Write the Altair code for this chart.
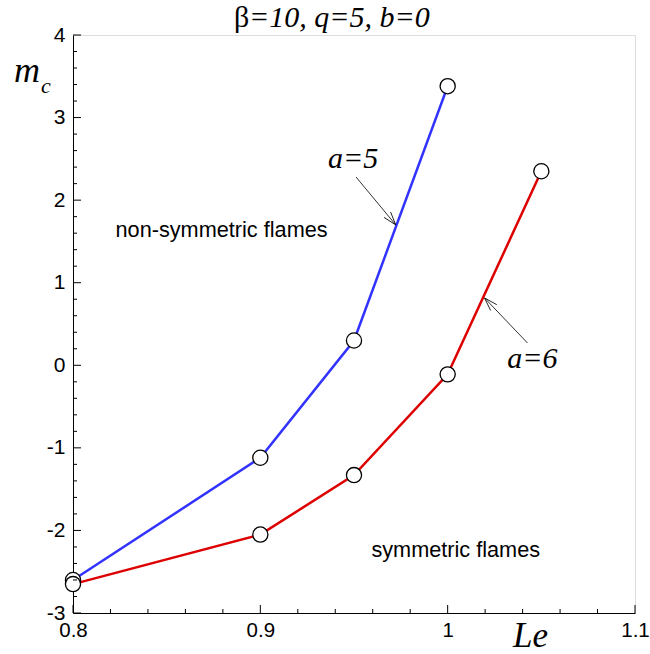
import math
import altair as alt
import pandas as pd

# ---- data ----
le_a5 = [0.8, 0.9, 0.95, 1.0]
mc_a5 = [-2.60, -1.12, 0.30, 3.38]
le_a6 = [0.8, 0.9, 0.95, 1.0, 1.05]
mc_a6 = [-2.65, -2.05, -1.33, -0.11, 2.35]

x_major = [0.8, 0.9, 1.0, 1.1]
x_minor = [0.82, 0.84, 0.86, 0.88, 0.92, 0.94, 0.96, 0.98, 1.02, 1.04, 1.06, 1.08]
y_major = [-3, -2, -1, 0, 1, 2, 3, 4]
y_minor = [round(-3 + 0.2 * i, 2) for i in range(36) if i % 5 != 0]

ann_text = ["a=5", "a=6"]
ann_x = [0.9495, 1.0452]
ann_y = [2.39, -0.03]
region_text = ["non-symmetric flames", "symmetric flames"]
region_x = [0.8793, 1.0043]
region_y = [1.55, -2.32]
arrow_x1 = [0.9511, 1.0426]
arrow_y1 = [2.28, 0.27]
arrow_x2 = [0.9723, 1.0197]
arrow_y2 = [1.70, 0.815]

W, H = 562, 578
XD = [0.8, 1.1]
YD = [-3, 4]

xs = alt.Scale(domain=XD, nice=False, zero=False)
ys = alt.Scale(domain=YD, nice=False, zero=False)

df_a5 = pd.DataFrame({"Le": le_a5, "mc": mc_a5, "s": "a=5"})
df_a6 = pd.DataFrame({"Le": le_a6, "mc": mc_a6, "s": "a=6"})
df_all = pd.concat([df_a5, df_a6])

base_axis_x = alt.Axis(values=x_major, labelExpr="toString(datum.value)", ticks=False, grid=False,
                       domainColor="black", domainWidth=1, labelFont="Liberation Sans",
                       labelFontSize=20.5, labelColor="black", labelPadding=7, title=None,
                       labelFlush=False)
base_axis_y = alt.Axis(values=y_major, labelExpr="toString(datum.value)", ticks=False, grid=False,
                       domainColor="black", domainWidth=1, labelFont="Liberation Sans",
                       labelFontSize=21, labelColor="black", labelPadding=8, title=None,
                       labelFlush=False)

line_a5 = alt.Chart(df_a5).mark_line(color="#3333ff", strokeWidth=2.5).encode(
    x=alt.X("Le:Q", scale=xs, axis=base_axis_x),
    y=alt.Y("mc:Q", scale=ys, axis=base_axis_y),
)
line_a6 = alt.Chart(df_a6).mark_line(color="#dd0000", strokeWidth=2.5).encode(
    x=alt.X("Le:Q", scale=xs), y=alt.Y("mc:Q", scale=ys))
points = alt.Chart(df_all).mark_point(shape="circle", filled=True, fill="white",
                                       stroke="black", strokeWidth=1.3, size=230,
                                       opacity=1).encode(
    x=alt.X("Le:Q", scale=xs), y=alt.Y("mc:Q", scale=ys))

# inward ticks
yt_major = alt.Chart(pd.DataFrame({"v": y_major})).mark_rule(color="black", strokeWidth=1).encode(
    y=alt.Y("v:Q", scale=ys), x=alt.value(0), x2=alt.value(8))
yt_minor = alt.Chart(pd.DataFrame({"v": y_minor})).mark_rule(color="black", strokeWidth=1).encode(
    y=alt.Y("v:Q", scale=ys), x=alt.value(0), x2=alt.value(4))
xt_major = alt.Chart(pd.DataFrame({"v": x_major})).mark_rule(color="black", strokeWidth=1).encode(
    x=alt.X("v:Q", scale=xs), y=alt.value(H), y2=alt.value(H - 8))
xt_minor = alt.Chart(pd.DataFrame({"v": x_minor})).mark_rule(color="black", strokeWidth=1).encode(
    x=alt.X("v:Q", scale=xs), y=alt.value(H), y2=alt.value(H - 4))

# annotations
ann = alt.Chart(pd.DataFrame({"t": ann_text, "x": ann_x, "y": ann_y})).mark_text(
    font="Liberation Serif", fontStyle="italic", fontSize=30, align="center",
    baseline="alphabetic", color="black").encode(
    x=alt.X("x:Q", scale=xs), y=alt.Y("y:Q", scale=ys), text="t:N")
region = alt.Chart(pd.DataFrame({"t": region_text, "x": region_x, "y": region_y})).mark_text(
    font="Liberation Sans", fontSize=21.7, align="center", baseline="alphabetic",
    color="black").encode(
    x=alt.X("x:Q", scale=xs), y=alt.Y("y:Q", scale=ys), text="t:N")

arr_df = pd.DataFrame({"x1": arrow_x1, "y1": arrow_y1, "x2": arrow_x2, "y2": arrow_y2})
px_per_x = W / (XD[1] - XD[0])
px_per_y = H / (YD[1] - YD[0])
arr_df["ang"] = [
    (math.degrees(math.atan2(-(b2 - b1) * px_per_y, (a2 - a1) * px_per_x)) + 360) % 360
    for a1, b1, a2, b2 in zip(arrow_x1, arrow_y1, arrow_x2, arrow_y2)
]
arr_lines = alt.Chart(arr_df).mark_rule(color="black", strokeWidth=0.8).encode(
    x=alt.X("x1:Q", scale=xs), y=alt.Y("y1:Q", scale=ys), x2="x2:Q", y2="y2:Q")
arr_heads = alt.Chart(arr_df).mark_point(
    shape="M -1 -0.32 L 0 0 L -1 0.32", filled=False, stroke="black",
    strokeWidth=0.8, size=700, opacity=1).encode(
    x=alt.X("x2:Q", scale=xs), y=alt.Y("y2:Q", scale=ys),
    angle=alt.Angle("ang:Q", scale=None))

# titles as text
beta = alt.Chart(pd.DataFrame({"t": ["β"]})).mark_text(
    font="Liberation Serif", fontSize=30, align="left", baseline="alphabetic",
    color="black").encode(x=alt.value(161), y=alt.value(-8), text="t:N")
title_rest = alt.Chart(pd.DataFrame({"t": ["=10, q=5, b=0"]})).mark_text(
    font="Liberation Serif", fontStyle="italic", fontSize=30, align="left",
    baseline="alphabetic", color="black").encode(x=alt.value(176), y=alt.value(-8), text="t:N")
m_lbl = alt.Chart(pd.DataFrame({"t": ["m"]})).mark_text(
    font="Liberation Serif", fontStyle="italic", fontSize=36, align="left",
    baseline="alphabetic", color="black").encode(x=alt.value(-59), y=alt.value(47), text="t:N")
c_lbl = alt.Chart(pd.DataFrame({"t": ["c"]})).mark_text(
    font="Liberation Serif", fontStyle="italic", fontSize=22, align="left",
    baseline="alphabetic", color="black").encode(x=alt.value(-32), y=alt.value(58), text="t:N")
le_lbl = alt.Chart(pd.DataFrame({"t": ["Le"]})).mark_text(
    font="Liberation Serif", fontStyle="italic", fontSize=35, align="left",
    baseline="alphabetic", color="black").encode(x=alt.value(440), y=alt.value(612), text="t:N")

chart = alt.layer(
    line_a5, line_a6, arr_lines, arr_heads, points,
    yt_major, yt_minor, xt_major, xt_minor,
    ann, region, beta, title_rest, m_lbl, c_lbl, le_lbl,
).properties(
    width=W, height=H,
    autosize=alt.AutoSizeParams(type="none"),
    padding={"left": 73, "top": 35, "right": 15, "bottom": 41},
).configure_view(stroke=None).configure(background="white")

chart.save("out.html", embed_options={"renderer": "svg", "actions": False})
